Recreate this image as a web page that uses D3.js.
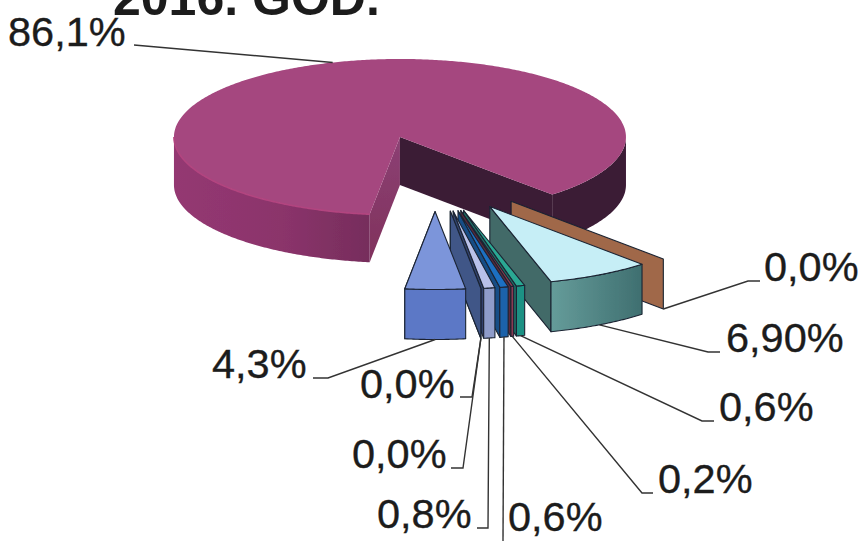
<!DOCTYPE html>
<html lang="en">
<head>
<meta charset="UTF-8">
<title>2016. GOD.</title>
<script src="https://d3js.org/d3.v7.min.js"></script>
<style>
    html, body { margin: 0; background: #fff; }
    svg { display: block; }
    text { font-family: "Liberation Sans", Arial, sans-serif; fill: #1c1c1c; }
    .title { font-size: 50px; font-weight: bold; fill: #1c1c1c; }
    .lbl { font-size: 41.5px; stroke: #1c1c1c; stroke-width: 0.35; }
    .leader { fill: none; stroke: #333; stroke-width: 1.4; }
    .wedge path { stroke: #1b2433; stroke-width: 1.1; stroke-linejoin: round; }
</style>
</head>
<body>
<svg width="862" height="541"></svg>
<script>
// values as drawn in the picture (the 6,90% slice is drawn a bit wider than its label says)
const titleText = "2016. GOD.";
const sliceValues = [86.1, 0, 7.4, 0.6, 0.2, 0.6, 0.8, 0, 0, 4.3];
const sliceLabels = ["86,1%", "0,0%", "6,90%", "0,6%", "0,2%", "0,6%", "0,8%", "0,0%", "0,0%", "4,3%"];

// colours per slice: top, front, side
const topColors = ["#a5477f", "#a0674a", "#c6eef6", "#2ba893", "#8e3c50", "#1f6fc2", "#b9c1ea", "#3f5687", "#3f5687", "#7c95da"];
const frontColors = ["#8f3670", "#a0674a", "#4f8787", "#1f9184", "#8a3a52", "#1d62aa", "#8f9cca", "#3f5687", "#3f5687", "#5c78c6"];
const sideColors = ["#3a1a35", "#a0674a", "#436a68", "#1c7268", "#5a2a3a", "#174d86", "#33436e", "#3f5687", "#3f5687", "#4c65a8"];

// label knee and text anchor, same order as the slices
const labelLayout = [
    {knee: null, end: [134, 45], tx: 8, ty: 46},
    {knee: [748, 281], end: [760, 281], tx: 764, ty: 281},
    {knee: [708, 352], end: [720, 352], tx: 726, ty: 352},
    {knee: [702, 421], end: [714, 421], tx: 719, ty: 421},
    {knee: [642, 493], end: [653, 493], tx: 658, ty: 493},
    {knee: null, end: [503, 541], tx: 508, ty: 531},
    {knee: [488, 528], end: [477, 528], tx: 377, ty: 528},
    {knee: [472, 397], end: [460, 397], tx: 360, ty: 398},
    {knee: [463, 468], end: [451, 468], tx: 352, ty: 468},
    {knee: [328, 378], end: [313, 378], tx: 212, ty: 378}
];

const width = 862, height = 541;
const cx = 435, cy = 172.5, rx = 226, ry = 78, depth = 50, mainDepth = 48, explode = 0.5;
const mainNudge = [-1.4, 1.7];
const startAngle = 187.7 * Math.PI / 180;

const svg = d3.select("svg").attr("viewBox", [0, 0, width, height]);
const defs = svg.append("defs");

// slight softness of the scan
defs.append("filter").attr("id", "soft")
    .append("feGaussianBlur").attr("stdDeviation", 0.35);

const rimGrad = defs.append("linearGradient").attr("id", "rimPink")
    .attr("x1", 0).attr("x2", 1).attr("y1", 0).attr("y2", 0);
rimGrad.append("stop").attr("offset", "0%").attr("stop-color", "#943872");
rimGrad.append("stop").attr("offset", "55%").attr("stop-color", "#8b346b");
rimGrad.append("stop").attr("offset", "100%").attr("stop-color", "#762d5c");

const cutGrad = defs.append("linearGradient").attr("id", "cutPink")
    .attr("x1", 0).attr("x2", 0).attr("y1", 0).attr("y2", 1);
cutGrad.append("stop").attr("offset", "0%").attr("stop-color", "#8c4074");
cutGrad.append("stop").attr("offset", "100%").attr("stop-color", "#80325c");

const tealGrad = defs.append("linearGradient").attr("id", "frontTeal")
    .attr("x1", 0).attr("x2", 1).attr("y1", 0).attr("y2", 0);
tealGrad.append("stop").attr("offset", "0%").attr("stop-color", "#659c9a");
tealGrad.append("stop").attr("offset", "100%").attr("stop-color", "#3f6f70");

const x = d3.scaleLinear().domain([-1, 1]).range([cx - rx, cx + rx]);
const y = d3.scaleLinear().domain([-1, 1]).range([cy - ry, cy + ry]);

const pie = d3.pie().sort(null)
    .startAngle(startAngle)
    .endAngle(startAngle + 2 * Math.PI);
const arcs = pie(sliceValues);

const line = d3.line();
const closed = pts => line(pts) + "Z";

// unit circle position for a pie angle (0 = 12 o'clock, clockwise)
const ux = a => Math.sin(a);
const uy = a => -Math.cos(a);

function apexOf(d, i) {
    const mid = (d.startAngle + d.endAngle) / 2;
    const nudge = i === 0 ? mainNudge : [0, 0];
    return [explode * ux(mid), explode * uy(mid), nudge[0], nudge[1]];
}

// screen point on the slice, r in pie radii, z in pixels below the top face
function pt(d, i, a, r, z) {
    const c = apexOf(d, i);
    return [x(c[0] + r * ux(a)) + c[2], y(c[1] + r * uy(a)) + c[3] + z];
}

function arcPoints(d, i, a0, a1, z) {
    const n = Math.max(2, Math.ceil(Math.abs(a1 - a0) / 0.01));
    return d3.range(n + 1).map(k => pt(d, i, a0 + (a1 - a0) * k / n, 1, z));
}

function rimPath(d, i, a0, a1, h) {
    return closed(arcPoints(d, i, a0, a1, 0).concat(arcPoints(d, i, a1, a0, h)));
}

function radialPath(d, i, a, h) {
    return closed([pt(d, i, a, 0, 0), pt(d, i, a, 1, 0), pt(d, i, a, 1, h), pt(d, i, a, 0, h)]);
}

function topPath(d, i) {
    return closed([pt(d, i, d.startAngle, 0, 0)].concat(arcPoints(d, i, d.startAngle, d.endAngle, 0)));
}

const chart = svg.append("g").attr("filter", "url(#soft)");

// big slice: hidden parts skipped, rim is pink on the left and dark on the right
const main = arcs[0];
const mainG = chart.append("g");
mainG.append("path").attr("d", radialPath(main, 0, main.startAngle, mainDepth)).attr("fill", "url(#cutPink)");
mainG.append("path").attr("d", radialPath(main, 0, main.endAngle, mainDepth)).attr("fill", sideColors[0]);
mainG.append("path").attr("d", rimPath(main, 0, main.startAngle, 1.5 * Math.PI, mainDepth)).attr("fill", "url(#rimPink)");
mainG.append("path").attr("d", rimPath(main, 0, 2.5 * Math.PI, main.endAngle, mainDepth)).attr("fill", sideColors[0]);
mainG.append("path").attr("d", topPath(main, 0)).attr("fill", topColors[0]);
mainG.append("path")
    .attr("d", line(arcPoints(main, 0, main.startAngle, 1.5 * Math.PI, 0)))
    .attr("fill", "none").attr("stroke", "#b2447f").attr("stroke-width", 1.6);

// small slices, painted right to left
const wedges = chart.selectAll("g.wedge")
    .data(arcs.slice(1))
    .join("g")
    .attr("class", "wedge");

wedges.each(function(d, k) {
    const i = k + 1;
    const g = d3.select(this);
    const isPlane = d.endAngle === d.startAngle;
    if (isPlane) {
        g.append("path").attr("d", radialPath(d, i, d.startAngle, depth)).attr("fill", frontColors[i]);
        return;
    }
    g.append("path").attr("d", radialPath(d, i, d.endAngle, depth)).attr("fill", sideColors[i]);
    g.append("path").attr("d", rimPath(d, i, d.startAngle, d.endAngle, depth))
        .attr("fill", i === 2 ? "url(#frontTeal)" : frontColors[i]);
    g.append("path").attr("d", topPath(d, i)).attr("fill", topColors[i]);
});

// leaders start at the middle of each slice edge
const leaders = svg.append("g");
arcs.forEach((d, i) => {
    const mid = (d.startAngle + d.endAngle) / 2;
    const pos = labelLayout[i];
    const start = pt(d, i, mid, 1, i === 0 ? 0 : depth);
    const pts = pos.knee ? [start, pos.knee, pos.end] : [start, pos.end];
    leaders.append("path").attr("class", "leader").attr("d", line(pts));
});

svg.append("g").selectAll("text")
    .data(sliceLabels)
    .join("text")
    .attr("class", "lbl")
    .attr("x", (d, i) => labelLayout[i].tx)
    .attr("y", (d, i) => labelLayout[i].ty)
    .text(d => d);

svg.append("text").attr("class", "title").attr("x", 113).attr("y", 15).text(titleText);
</script>
</body>
</html>
